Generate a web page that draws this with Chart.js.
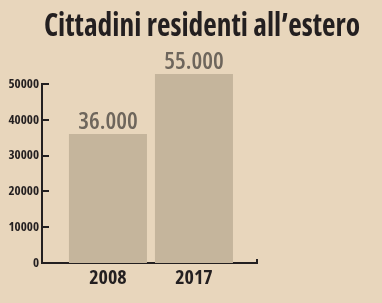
<!DOCTYPE html>
<html>
<head>
<meta charset="utf-8">
<script src="https://cdn.jsdelivr.net/npm/chart.js@4"></script>
<style>
  html, body { margin: 0; padding: 0; background: #e8d6bc; }
  #wrap { position: relative; width: 382px; height: 303px; overflow: hidden; }
  #title {
    position: absolute; left: 0; width: 382px; top: 4px; text-align: center;
    font-family: 'Open Sans', sans-serif; font-stretch: condensed;
    font-weight: bold; font-size: 32px; color: #231f20; line-height: 40px;
    white-space: nowrap; transform: translateX(11px) scaleX(0.92);
  }
  canvas { position: absolute; left: 0; top: 0; }
</style>
</head>
<body>
<div id="wrap">
  <canvas id="chart" width="382" height="303"></canvas>
  <div id="title">Cittadini residenti all’estero</div>
</div>
<script>
const YEARS = ['2008', '2017'];
const RESIDENTS = [36000, 52800];          // bar heights as drawn
const VALUE_LABELS = ['36.000', '55.000']; // printed labels
const Y_TICKS = [0, 10000, 20000, 30000, 40000, 50000];

const INK = '#231f20';
const BAR_COLOR = '#c5b59c';
const LABEL_GREY = '#6e665c';
const FONT = "'Open Sans', sans-serif";
const COND = w => `${w} condensed`;

// inner tick marks, axis end cap and value labels above bars
const decor = {
    id: 'decor',
    afterDraw(chart) {
        const { ctx, chartArea, scales } = chart;
        ctx.save();
        ctx.strokeStyle = INK;
        ctx.lineWidth = 2;
        Y_TICKS.forEach(v => {
            const y = Math.round(scales.y.getPixelForValue(v));
            ctx.beginPath();
            ctx.moveTo(chartArea.left, y);
            ctx.lineTo(chartArea.left + 7, y);
            ctx.stroke();
        });
        ctx.beginPath();
        ctx.moveTo(chartArea.right, chartArea.bottom);
        ctx.lineTo(chartArea.right, chartArea.bottom - 4);
        ctx.stroke();

        ctx.fillStyle = LABEL_GREY;
        ctx.font = `600 condensed 24px ${FONT}`;
        ctx.textAlign = 'center';
        ctx.textBaseline = 'alphabetic';
        chart.getDatasetMeta(0).data.forEach((bar, i) => {
            ctx.fillText(VALUE_LABELS[i], bar.x, bar.y - 5);
        });
        ctx.restore();
    }
};

new Chart(document.getElementById('chart'), {
    type: 'bar',
    data: {
        datasets: [{
            data: RESIDENTS.map((v, i) => ({ x: i + 1, y: v })),
            backgroundColor: BAR_COLOR,
            barPercentage: 0.907, categoryPercentage: 1,
            clip: false
        }]
    },
    options: {
        responsive: false, animation: false, devicePixelRatio: 1,
        layout: { padding: { top: 84, right: 125, left: 0, bottom: 0 } },
        plugins: { legend: { display: false }, tooltip: { enabled: false } },
        scales: {
            x: {
                type: 'linear', min: 0.233, max: 2.733, offset: false,
                afterBuildTicks: s => { s.ticks = YEARS.map((_, i) => ({ value: i + 1 })); },
                afterFit: s => { s.height = 40; },
                grid: { display: false, drawTicks: false, offset: false },
                border: { color: INK, width: 2 },
                ticks: {
                    color: INK, padding: 3,
                    font: { family: FONT, size: 20, weight: COND('bold') },
                    callback: v => YEARS[v - 1] ?? ''
                }
            },
            y: {
                min: 0, max: 50000,
                afterBuildTicks: s => { s.ticks = Y_TICKS.map(v => ({ value: v })); },
                afterFit: s => { s.width = 42; },
                grid: { display: false, drawTicks: false },
                border: { color: INK, width: 2 },
                ticks: {
                    color: INK, padding: 3,
                    font: { family: FONT, size: 13, weight: COND('bold') },
                    callback: v => String(v)
                }
            }
        }
    },
    plugins: [decor]
});
</script>
</body>
</html>
